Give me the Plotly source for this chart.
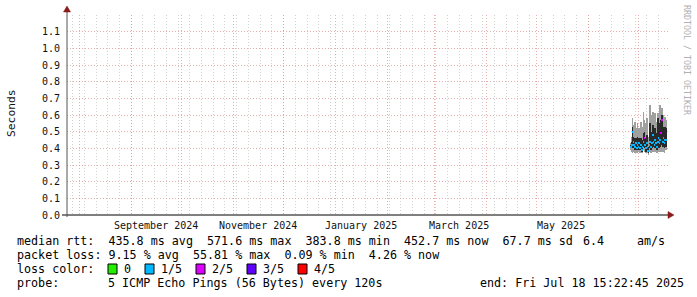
import plotly.graph_objects as go
import pandas as pd

# ---------------- data ----------------
END_TIME = "2025-07-18 15:22:45"
START_TIME = "2024-07-24 15:22:45"

times = pd.date_range("2025-06-26 12:00", periods=43, freq="12h")

median = [0.41, 0.42, 0.50, 0.44, 0.42, 0.41, 0.43, 0.40, 0.42, 0.41, 0.43,
          0.40, 0.42, 0.39, 0.41, 0.44, 0.46, 0.42, 0.40, 0.43, 0.41, 0.3838,
          0.42, 0.44, 0.41, 0.43, 0.48, 0.44, 0.42, 0.45, 0.43, 0.41, 0.44,
          0.46, 0.43, 0.45, 0.49, 0.5716, 0.44, 0.46, 0.43, 0.45, 0.4527]
smoke_min = [0.39, 0.38, 0.37, 0.38, 0.38, 0.37, 0.38, 0.37, 0.38, 0.38, 0.39,
             0.37, 0.38, 0.37, 0.38, 0.39, 0.38, 0.38, 0.37, 0.38, 0.37, 0.36,
             0.38, 0.38, 0.37, 0.38, 0.39, 0.38, 0.38, 0.39, 0.38, 0.37, 0.38,
             0.39, 0.38, 0.39, 0.38, 0.40, 0.38, 0.38, 0.37, 0.39, 0.39]
smoke_max = [0.43, 0.47, 0.58, 0.54, 0.49, 0.56, 0.52, 0.48, 0.55, 0.50, 0.52,
             0.47, 0.56, 0.49, 0.53, 0.62, 0.57, 0.51, 0.55, 0.58, 0.50, 0.47,
             0.56, 0.66, 0.60, 0.54, 0.62, 0.58, 0.55, 0.61, 0.56, 0.52, 0.61,
             0.60, 0.57, 0.66, 0.63, 0.64, 0.60, 0.58, 0.56, 0.59, 0.57]
inner_lo = [0.40, 0.40, 0.42, 0.41, 0.40, 0.39, 0.40, 0.39, 0.40, 0.39, 0.41,
            0.39, 0.40, 0.38, 0.39, 0.41, 0.42, 0.40, 0.38, 0.40, 0.39, 0.37,
            0.40, 0.40, 0.39, 0.40, 0.42, 0.41, 0.40, 0.41, 0.40, 0.39, 0.40,
            0.42, 0.40, 0.41, 0.42, 0.45, 0.41, 0.41, 0.40, 0.41, 0.41]
inner_hi = [0.42, 0.44, 0.53, 0.47, 0.45, 0.46, 0.46, 0.43, 0.47, 0.44, 0.46,
            0.43, 0.46, 0.42, 0.45, 0.49, 0.50, 0.46, 0.44, 0.48, 0.45, 0.41,
            0.47, 0.55, 0.50, 0.48, 0.54, 0.50, 0.47, 0.52, 0.49, 0.46, 0.58,
            0.57, 0.50, 0.55, 0.57, 0.60, 0.52, 0.53, 0.50, 0.53, 0.52]
loss_level = [1, 1, 1, 1, 1, 1, 1, 1, 1, 1, 1, 1, 1, 1, 1, 1, 2, 1, 1, 1, 1, 1,
              1, 1, 1, 1, 1, 1, 1, 1, 1, 1, 1, 1, 1, 1, 2, 2, 1, 1, 1, 1, 1]

loss_labels = ["0", "1/5", "2/5", "3/5", "4/5"]
loss_colors = ["#22ee00", "#00b8ff", "#dd00ff", "#6000ff", "#ff0000"]

major_grid = ["2024-08-01", "2024-09-01", "2024-10-01", "2024-11-01", "2024-12-01",
              "2025-01-01", "2025-02-01", "2025-03-01", "2025-04-01", "2025-05-01",
              "2025-06-01", "2025-07-01"]
month_label_pos = ["2024-09-16", "2024-11-16", "2025-01-16", "2025-03-16", "2025-05-16"]
month_label_txt = ["September 2024", "November 2024", "January 2025", "March 2025", "May 2025"]

y_ticks = [0.0, 0.1, 0.2, 0.3, 0.4, 0.5, 0.6, 0.7, 0.8, 0.9, 1.0, 1.1]

stats_line1 = "median rtt:  435.8 ms avg  571.6 ms max  383.8 ms min  452.7 ms now  67.7 ms sd"
stats_sd_ratio = "6.4"
stats_unit = "am/s"
stats_line2 = "packet loss: 9.15 % avg  55.81 % max  0.09 % min  4.26 % now"
probe_txt = "5 ICMP Echo Pings (56 Bytes) every 120s"
end_txt = "end: Fri Jul 18 15:22:45 2025"

# ---------------- geometry helpers (pixels -> paper) ----------------
W, H = 697, 297
L, R, T, B = 67, 668, 15, 215
PW, PH = R - L, B - T


def px(x):
    return (x - L) / PW


def py(y):
    return (B - y) / PH


MONO = "DejaVu Sans Mono"
BAR_W_MS = 9 * 3600 * 1000

fig = go.Figure()

# outer smoke
fig.add_trace(go.Bar(
    x=times, base=smoke_min, y=[hi - lo for hi, lo in zip(smoke_max, smoke_min)],
    width=BAR_W_MS, marker=dict(color="#a0a0a0", line=dict(width=0)),
    showlegend=False, hoverinfo="skip"))
# inner smoke
fig.add_trace(go.Bar(
    x=times, base=inner_lo, y=[hi - lo for hi, lo in zip(inner_hi, inner_lo)],
    width=BAR_W_MS, marker=dict(color="#2a2a2a", line=dict(width=0)),
    showlegend=False, hoverinfo="skip"))
# median coloured by loss
fig.add_trace(go.Bar(
    x=times, base=[m - 0.004 for m in median], y=[0.008] * len(median),
    width=BAR_W_MS,
    marker=dict(color=[loss_colors[k] for k in loss_level], line=dict(width=0)),
    showlegend=False, hoverinfo="skip"))

fig.update_layout(
    width=W, height=H,
    margin=dict(l=L, r=W - R, t=T, b=H - B, pad=0),
    paper_bgcolor="white", plot_bgcolor="white",
    barmode="overlay", bargap=0,
    showlegend=False,
    font=dict(family=MONO, size=10, color="#000"),
)

MAJOR_GRID_COLOR = "rgba(222,140,140,0.7)"
MINOR_GRID_COLOR = "#d2d2d2"

fig.update_xaxes(
    type="date", range=[START_TIME, END_TIME],
    tickmode="array", tickvals=major_grid, showticklabels=False, ticks="",
    showgrid=True, gridcolor=MAJOR_GRID_COLOR, griddash="1px,2px", gridwidth=1,
    minor=dict(tickmode="linear", tick0="2024-07-28", dtick=7 * 86400000,
               showgrid=True, gridcolor=MINOR_GRID_COLOR, griddash="1px,2px", gridwidth=1,
               ticks=""),
    showline=False, zeroline=False, fixedrange=True, automargin=False,
)
fig.update_yaxes(
    range=[0, 1.2], tickmode="array", tickvals=y_ticks,
    ticktext=[f"{v:.1f}" for v in y_ticks],
    tickfont=dict(family=MONO, size=10, color="#111"),
    ticks="", ticklabelstandoff=6,
    showgrid=True, gridcolor=MAJOR_GRID_COLOR, griddash="1px,2px", gridwidth=1,
    showline=False, zeroline=False, fixedrange=True, automargin=False,
)

shapes = []
# axes lines
shapes.append(dict(type="line", xref="paper", yref="paper",
                   x0=px(62), x1=px(669), y0=0, y1=0, line=dict(color="#000", width=1)))
shapes.append(dict(type="line", xref="paper", yref="paper",
                   x0=0, x1=0, y0=py(217), y1=py(10), line=dict(color="#555", width=1)))
# arrows
shapes.append(dict(type="path", xref="paper", yref="paper",
                   path=f"M {px(668)} {py(211.5)} L {px(674)} {py(215)} L {px(668)} {py(218.5)} Z",
                   fillcolor="#8b1a1a", line=dict(color="#8b1a1a", width=0.5)))
shapes.append(dict(type="path", xref="paper", yref="paper",
                   path=f"M {px(63.5)} {py(12)} L {px(67)} {py(6)} L {px(70.5)} {py(12)} Z",
                   fillcolor="#8b1a1a", line=dict(color="#8b1a1a", width=0.5)))

annotations = []
# month labels
for pos, txt in zip(month_label_pos, month_label_txt):
    annotations.append(dict(x=pos, xref="x", y=py(225), yref="paper", text=txt,
                            showarrow=False, xanchor="center", yanchor="middle",
                            font=dict(family=MONO, size=10, color="#111")))
# y title
annotations.append(dict(x=px(11), y=py(113), xref="paper", yref="paper", text="Seconds",
                        textangle=-90, showarrow=False, xanchor="center", yanchor="middle",
                        font=dict(family=MONO, size=11.3, color="#111")))
# watermark
annotations.append(dict(x=px(687), y=py(60), xref="paper", yref="paper",
                        text="RRDTOOL / TOBI OETIKER", textangle=90, showarrow=False,
                        xanchor="center", yanchor="middle",
                        font=dict(family=MONO, size=8.3, color="#b0b0b0")))

LEG = 11.7


def add_text(x, y, txt):
    annotations.append(dict(x=px(x), y=py(y), xref="paper", yref="paper",
                            text=txt.replace(" ", "\u00a0"), showarrow=False,
                            xanchor="left", yanchor="middle",
                            font=dict(family=MONO, size=LEG, color="#000")))


add_text(15, 241, stats_line1)
add_text(581, 241, stats_sd_ratio)
add_text(635, 241, stats_unit)
add_text(15, 255, stats_line2)
add_text(15, 269, "loss color:")
box_x = [108, 145, 196, 247, 298]
for bx, lab, col in zip(box_x, loss_labels, loss_colors):
    shapes.append(dict(type="rect", xref="paper", yref="paper",
                       x0=px(bx), x1=px(bx + 9), y0=py(274), y1=py(264),
                       fillcolor=col, line=dict(color="#000", width=1)))
    add_text(bx + 14, 269, lab)
add_text(15, 283, "probe:")
add_text(106, 283, probe_txt)
add_text(478, 283, end_txt)

fig.update_layout(shapes=shapes, annotations=annotations)

fig.write_html("out.html")
